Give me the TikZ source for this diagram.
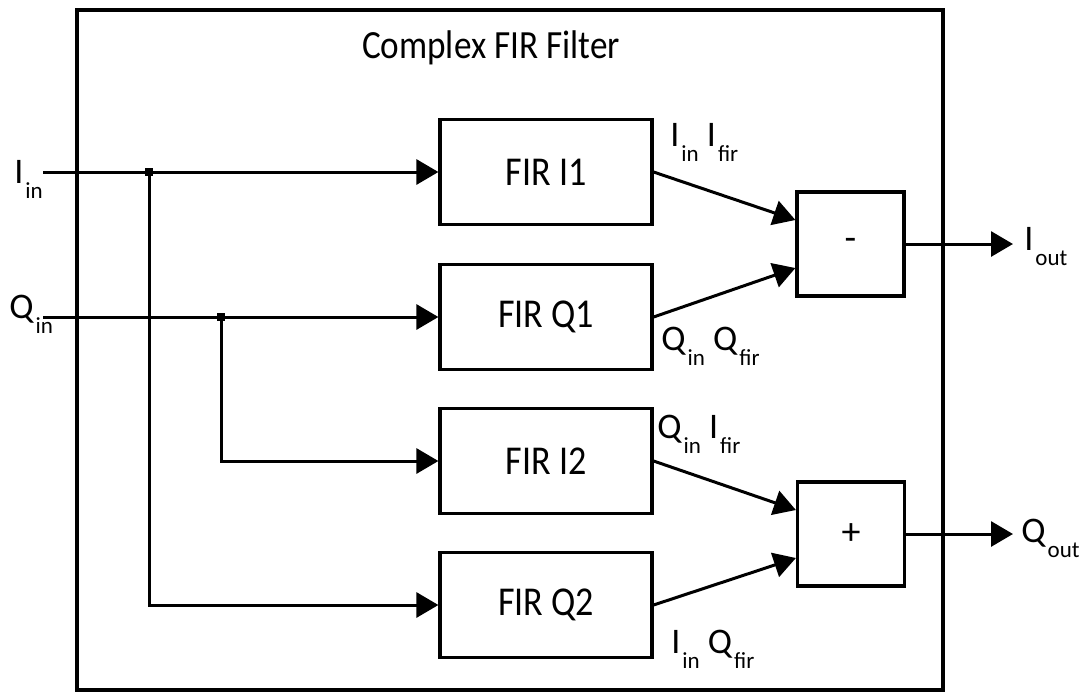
\documentclass[tikz,border=0pt]{standalone}
\usepackage{fontspec}
\setmainfont{Carlito}
\newfontfamily\narrowfont{Carlito}[FakeStretch=0.88]
\usetikzlibrary{arrows.meta}

% signal name with a lowered subscript
\newcommand{\sgl}[2]{#1\kern1pt\raisebox{-7.5pt}{\fontsize{11.5}{12}\selectfont #2}}

\begin{document}
\begin{tikzpicture}[x=0.5pt,y=-0.5pt,
    firbox/.style={draw, line width=1.6pt, minimum width=106pt, minimum height=52.5pt,
      inner sep=0pt, font=\narrowfont\fontsize{20.5}{24}\selectfont},
    opbox/.style={draw, line width=1.6pt, minimum width=53.5pt, minimum height=52pt,
      inner sep=0pt, font=\fontsize{19}{20}\selectfont},
    sig/.style={line width=1.5pt, -{Triangle[length=11pt,width=12.5pt]}},
    lbl/.style={anchor=base west, inner sep=0pt, font=\fontsize{18}{20}\selectfont}]
    \useasboundingbox (0,0) rectangle (1088,692);
    \draw[line width=1.6pt] (77,10) rectangle (943,690);
    \node[anchor=base, inner sep=0pt, font=\narrowfont\fontsize{20}{22}\selectfont] (title) at (491,58) {Complex FIR Filter};
    % FIR blocks
    \foreach \nm/\y/\txt in {fir1/172/FIR I1, firq1/317/FIR Q1, firi2/461/FIR I2, firq2/605/FIR Q2} {
        \node[firbox] (\nm) at (546,\y) {\txt};
      }
    \node[opbox] (sub) at (850.5,244) {-};
    \node[opbox] (add) at (851,534) {+};
    % inputs
    \coordinate (iin) at (43,172);
    \coordinate (qin) at (43,317);
    \coordinate (ji) at (149,172);
    \coordinate (jq) at (221,317);
    \draw[sig] (iin) -- (fir1.west);
    \draw[sig] (qin) -- (firq1.west);
    \draw[sig] (ji) |- (firq2.west);
    \draw[sig] (jq) |- (firi2.west);
    \foreach \j in {ji,jq} {
        \fill (\j) +(-4,-4) rectangle +(4,4);
      }
    % to the adders
    \draw[sig] (fir1.east) -- ([yshift=12pt]sub.west);
    \draw[sig] (firq1.east) -- ([yshift=-12pt]sub.west);
    \draw[sig] (firi2.east) -- ([yshift=12pt]add.west);
    \draw[sig] (firq2.east) -- ([yshift=-12pt]add.west);
    % outputs
    \coordinate (iout) at (1013,244);
    \coordinate (qout) at (1013,534);
    \draw[sig] (sub.east) -- (iout);
    \draw[sig] (add.east) -- (qout);
    % labels
    \node[lbl] (liin) at (14,183) {\sgl{I}{in}};
    \node[lbl] (lqin) at (9,318) {\sgl{Q}{in}};
    \node[lbl] (lii) at (670,146) {\sgl{I}{in} \sgl{I}{fir}};
    \node[lbl] (lqq) at (661,350) {\sgl{Q}{in} \sgl{Q}{fir}};
    \node[lbl] (lqi) at (657,438) {\sgl{Q}{in} \sgl{I}{fir}};
    \node[lbl] (liq) at (671,653) {\sgl{I}{in} \sgl{Q}{fir}};
    \node[lbl] (liout) at (1024,250) {\sgl{I}{out}};
    \node[lbl] (lqout) at (1021,542) {\sgl{Q}{out}};
  \end{tikzpicture}
\end{document}
